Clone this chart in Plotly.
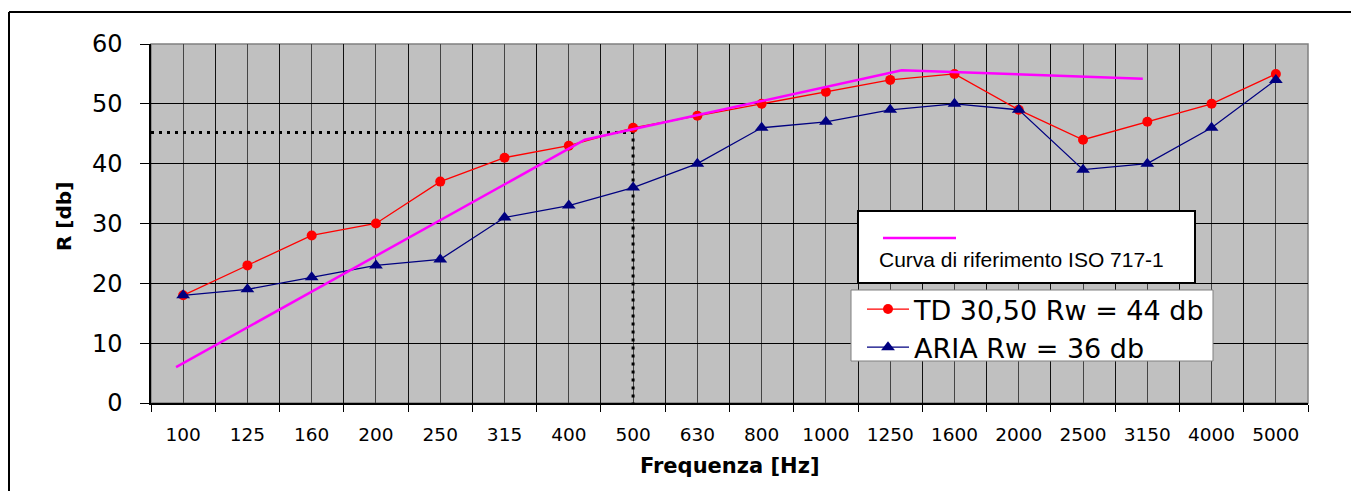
import plotly.graph_objects as go

# ---- data ----
freqs = ["100", "125", "160", "200", "250", "315", "400", "500", "630",
         "800", "1000", "1250", "1600", "2000", "2500", "3150", "4000", "5000"]
td_db = [18, 23, 28, 30, 37, 41, 43, 46, 48, 50, 52, 54, 55, 49, 44, 47, 50, 55]
aria_db = [18, 19, 21, 23, 24, 31, 33, 36, 40, 46, 47, 49, 50, 49, 39, 40, 46, 54]
# ISO 717-1 reference curve (hand-drawn in the original, positions in band units)
iso_pos = [-0.11, 6.25, 11.18, 14.93]
iso_db = [6.0, 44.0, 55.6, 54.2]
# reading of Rw at 500 Hz
rw_freq = "500"
rw_db = 45.2

td_name = "TD 30,50 Rw = 44 db"
aria_name = "ARIA Rw = 36 db"
iso_name = "Curva di riferimento ISO 717-1"

idx = list(range(len(freqs)))
rw_i = freqs.index(rw_freq)

fig = go.Figure()

# dotted reading lines
fig.add_trace(go.Scatter(
    x=[-0.5, rw_i, rw_i], y=[rw_db, rw_db, 0], mode="lines",
    line=dict(color="black", width=3, dash="3px,5px"),
    showlegend=False, hoverinfo="skip"))

fig.add_trace(go.Scatter(
    x=idx, y=td_db, mode="lines+markers", name=td_name,
    line=dict(color="#FF0000", width=1.3),
    marker=dict(symbol="circle", size=10, color="#FF0000")))

fig.add_trace(go.Scatter(
    x=idx, y=aria_db, mode="lines+markers", name=aria_name,
    line=dict(color="#000080", width=1.3),
    marker=dict(symbol="triangle-up", size=12, color="#000080")))

fig.add_trace(go.Scatter(
    x=iso_pos, y=iso_db, mode="lines", name=iso_name,
    line=dict(color="#FF00FF", width=2.5), showlegend=False))

# page layout in page pixels (body margin removed below)
PL, PR, PT, PB = 151, 1308, 44, 403   # plot area on the page
W, H = 1351, 491
L, T = PL, PT
R, B = W - PR, H - PB
pw, ph = PR - PL, PB - PT


def px_x(p):
    return (p - PL) / pw


def px_y(p):
    return (PB - p) / ph


fig.update_layout(
    width=W, height=H,
    margin=dict(l=L, r=R, t=T, b=B),
    paper_bgcolor="white",
    plot_bgcolor="#C0C0C0",
    font=dict(family="DejaVu Sans", color="black"),
    xaxis=dict(
        range=[-0.5, len(freqs) - 0.5],
        tickmode="array", tickvals=idx, ticktext=freqs,
        ticks="", showgrid=True, gridcolor="#444444", gridwidth=1,
        minor=dict(tickmode="array", tickvals=[i - 0.5 for i in range(len(freqs) + 1)],
                   ticks="outside", ticklen=7, tickcolor="black", tickwidth=1,
                   showgrid=True, gridcolor="#111111", gridwidth=1),
        showline=True, linecolor="black", linewidth=1.5, zeroline=False,
        tickfont=dict(family="DejaVu Sans", size=18.5, color="black"),
        ticklabelstandoff=14,
    ),
    yaxis=dict(
        range=[0, 60], tickmode="linear", tick0=0, dtick=10,
        ticks="outside", ticklen=9, tickcolor="black", tickwidth=1,
        showgrid=True, gridcolor="black", gridwidth=1,
        showline=True, linecolor="black", linewidth=1.5, zeroline=False,
        tickfont=dict(family="DejaVu Sans", size=24, color="black"),
        ticklabelstandoff=13,
    ),
    showlegend=True,
    legend=dict(
        x=px_x(862), y=px_y(285), xanchor="left", yanchor="top",
        bgcolor="rgba(0,0,0,0)", borderwidth=0,
        font=dict(family="DejaVu Sans", size=27, color="black"),
        tracegroupgap=0, itemwidth=42,
    ),
    annotations=[
        dict(text="<b>Frequenza [Hz]</b>", xref="paper", yref="paper",
             x=0.5, y=px_y(466), xanchor="center", yanchor="middle",
             showarrow=False, font=dict(family="DejaVu Sans", size=21, color="black")),
        dict(text="<b>R [db]</b>", xref="paper", yref="paper", textangle=-90,
             x=px_x(64), y=px_y(217), xanchor="center", yanchor="middle",
             showarrow=False, font=dict(family="DejaVu Sans", size=20, color="black")),
        dict(text=iso_name, xref="paper", yref="paper",
             x=px_x(877), y=px_y(259), xanchor="left", yanchor="middle",
             showarrow=False, font=dict(family="Liberation Sans", size=21, color="black")),
    ],
    shapes=[
        # gray plot frame
        dict(type="rect", xref="paper", yref="paper", x0=0, x1=1, y0=0, y1=1,
             line=dict(color="#808080", width=1.5), layer="between"),
        # outer chart border (top and left edges; the rest lies outside the page)
        dict(type="line", xref="paper", yref="paper",
             x0=px_x(9), x1=px_x(1351), y0=px_y(12), y1=px_y(12),
             line=dict(color="black", width=2), layer="above"),
        dict(type="line", xref="paper", yref="paper",
             x0=px_x(9), x1=px_x(9), y0=px_y(12), y1=px_y(491),
             line=dict(color="black", width=2), layer="above"),
        # ISO legend box
        dict(type="rect", xref="paper", yref="paper",
             x0=px_x(858), x1=px_x(1195), y0=px_y(283), y1=px_y(211),
             line=dict(color="black", width=2), fillcolor="white", layer="above"),
        dict(type="line", xref="paper", yref="paper",
             x0=px_x(883), x1=px_x(956), y0=px_y(238), y1=px_y(238),
             line=dict(color="#FF00FF", width=2.5), layer="above"),
        # series legend box
        dict(type="rect", xref="paper", yref="paper",
             x0=px_x(851), x1=px_x(1213), y0=px_y(361), y1=px_y(290),
             line=dict(color="#808080", width=1), fillcolor="white", layer="above"),
    ],
)

fig.write_html(
    "out.html",
    config={"displayModeBar": False},
    post_script="document.body.style.margin='0';document.body.style.overflow='hidden';",
)
